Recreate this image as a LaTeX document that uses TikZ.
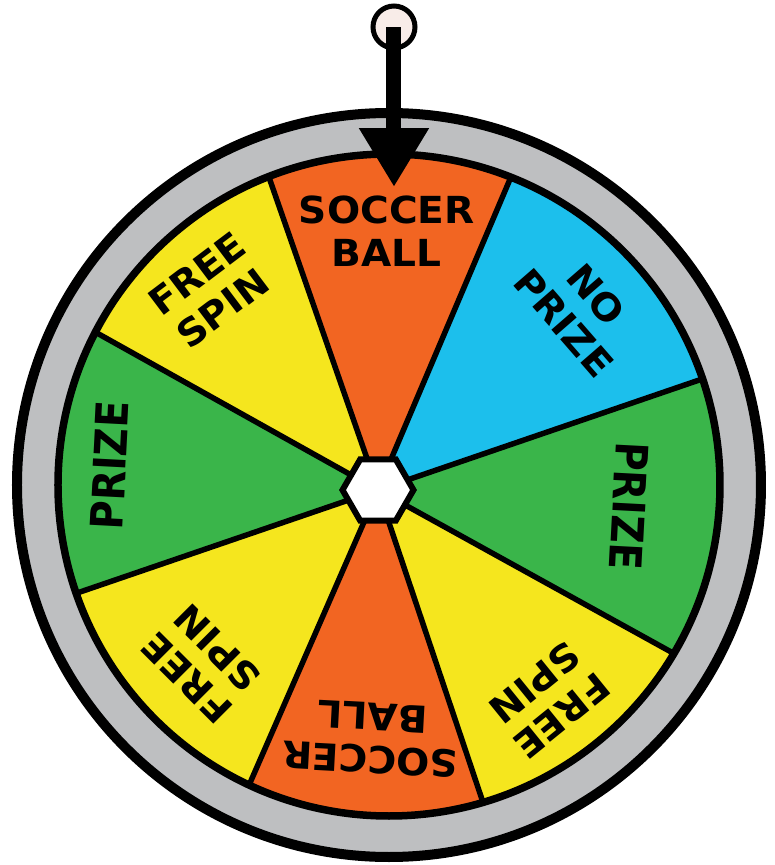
\documentclass[tikz,border=0pt]{standalone}
\usepackage{fontspec}
\usepackage{tikz}
\usetikzlibrary{arrows.meta,positioning,calc}
\newfontfamily\wheelfont[FakeStretch=1.05]{DejaVu Sans Bold}
\definecolor{wheelorange}{HTML}{F26522}
\definecolor{wheelblue}{HTML}{1CBFEC}
\definecolor{wheelgreen}{HTML}{3AB54A}
\definecolor{wheelyellow}{HTML}{F5E61E}
\definecolor{rimgray}{HTML}{BEBFC1}
\definecolor{knobfill}{HTML}{F8ECE8}

\begin{document}
\begin{tikzpicture}[
  wheeltext/.style={align=center, inner sep=0pt, font=\wheelfont\fontsize{10.6}{12.2}\selectfont},
  spoke/.style={line width=0.055cm, line cap=round},
  rim/.style={draw=black, line width=0.1cm}
]
  \useasboundingbox (-3.89,-3.80) rectangle (3.86,4.85);
  \coordinate (hub) at (-0.11,-0.05);

  % grey rim and coloured sectors
  \fill[rimgray] (0,0) circle (3.72);
  \foreach \a/\b/\col in {68.4/111.3/wheelorange, 18.7/68.4/wheelblue, -30.6/18.7/wheelgreen,
      -73.5/-30.6/wheelyellow, -115/-73.5/wheelorange, -160.9/-115/wheelyellow,
      152.5/199.1/wheelgreen, 111.3/152.5/wheelyellow}
    \fill[\col] (hub) -- (\a:3.31) arc[start angle=\a, end angle=\b, radius=3.31] -- cycle;
  \foreach \a in {68.4, 111.3, 18.7, -30.6, -73.5, -115, -160.9, 152.5}
    \draw[spoke] (hub) -- (\a:3.31);
  \draw[line width=0.075cm] (0,0) circle (3.31);
  \draw[rim] (0,0) circle (3.72);

  % centre hexagon
  \draw[fill=white, line width=0.06cm, shift={(hub)}]
    (0:0.355) -- (60:0.355) -- (120:0.355) -- (180:0.355) -- (240:0.355) -- (300:0.355) -- cycle;

  % labels
  \node[wheeltext, rotate=0] (ballTop) at (90.5:2.54) {SOCCER\\BALL};
  \node[wheeltext, rotate=-49] (noPrize) at (42.7:2.60) {NO\\PRIZE};
  \node[wheeltext, rotate=-93, yscale=1.2] (prizeRight) at (-5:2.41) {PRIZE};
  \node[wheeltext, rotate=-141] (spinLowRight) at (-53.4:2.67) {FREE\\SPIN};
  \node[wheeltext, rotate=177] (ballBottom) at (266:2.54) {SOCCER\\BALL};
  \node[wheeltext, rotate=135] (spinLowLeft) at (223.6:2.58) {FREE\\SPIN};
  \node[wheeltext, rotate=87, yscale=1.2] (prizeLeft) at (176:2.80) {PRIZE};
  \node[wheeltext, rotate=37] (spinUpLeft) at (132.7:2.64) {FREE\\SPIN};

  % pointer
  \node[circle, draw, line width=0.05cm, fill=knobfill, minimum size=0.42cm, inner sep=0pt] (knob) at (0.05,4.58) {};
  \coordinate (tip) at (0.05,2.98);
  \draw[line width=0.15cm, -{Triangle[width=0.66cm, length=0.59cm]}] (knob.center) -- (tip);
\end{tikzpicture}
\end{document}
